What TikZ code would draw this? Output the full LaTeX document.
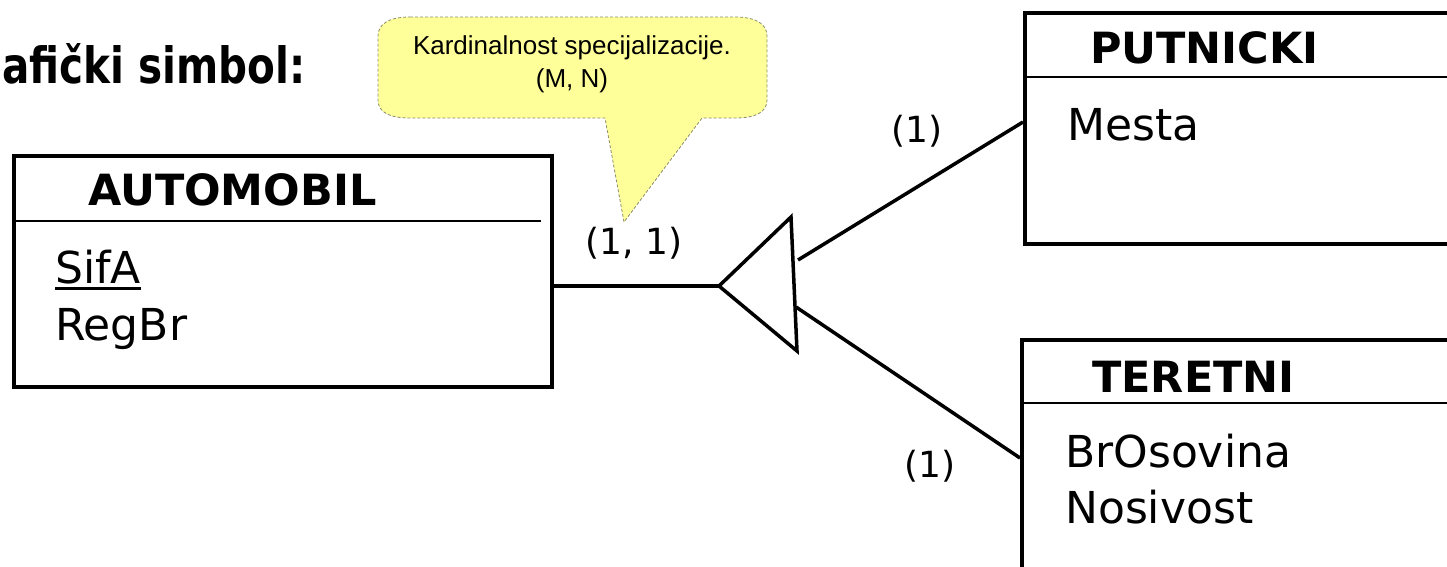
\documentclass[tikz,border=0pt]{standalone}
\usepackage{graphicx}
\usepackage{fontspec}
\setmainfont{DejaVu Sans}
\newfontfamily\notefont{Liberation Sans}
\definecolor{notefill}{HTML}{FFFF99}
\definecolor{noteline}{HTML}{8C8C6E}
\begin{document}
\begin{tikzpicture}[x=1pt,y=-1pt,
  entity/.style={draw, line width=4pt, anchor=north west, inner sep=0pt},
  sepline/.style={line width=2pt},
  conn/.style={line width=3.5pt},
  etitle/.style={anchor=base west, inner sep=0pt, font=\fontsize{43}{50}\selectfont\bfseries},
  attr/.style={anchor=base west, inner sep=0pt, font=\fontsize{44}{57}\selectfont},
  card/.style={inner sep=0pt, font=\fontsize{36}{40}\selectfont},
  note/.style={draw=noteline, densely dashed, line width=0.8pt, fill=notefill},
  notetext/.style={inner sep=0pt, font=\notefont\fontsize{26}{33}\selectfont, align=center}
]
\path[use as bounding box, clip] (0,0) rectangle (1447,566);

% heading
\node[anchor=base east, inner sep=0pt, font=\fontsize{50}{56}\selectfont\bfseries] (head) at (306,83) {\scalebox{0.81}[1]{afički simbol:}};

% supertype entity
\node[entity, minimum width=538pt, minimum height=231pt] (auto) at (12,154) {};
\draw[sepline] (12,221) -- (541,221);
\node[etitle] (autot) at (88,205) {AUTOMOBIL};
\node[attr] (sifa) at (55,283) {SifA};
\draw[line width=3pt] ([yshift=-5pt]sifa.base west) -- ([yshift=-5pt]sifa.base east);
\node[attr] (regbr) at (55,340) {RegBr};

% subtype entities
\node[entity, minimum width=460pt, minimum height=231pt] (put) at (1023,11) {};
\draw[sepline] (1023,77) -- (1460,77);
\node[etitle] (putt) at (1090,63) {PUTNICKI};
\node[attr] (mesta) at (1067,140) {Mesta};

\node[entity, minimum width=460pt, minimum height=300pt] (ter) at (1020,338) {};
\draw[sepline] (1020,403) -- (1460,403);
\node[etitle] (tert) at (1092,392) {TERETNI};
\node[attr] (bros) at (1065,467) {BrOsovina};
\node[attr] (nos) at (1065,523) {Nosivost};

% specialization symbol
\coordinate (apex) at (719,286);
\coordinate (tritop) at (791,217);
\coordinate (tribot) at (797,351);
\draw[conn, line join=miter] (apex) -- (tritop) -- (tribot) -- cycle;
\draw[conn] (auto.east |- apex) -- (apex);

\coordinate (up0) at (798,260);
\coordinate (up1) at (1023,122);
\coordinate (lo0) at (796,307);
\coordinate (lo1) at (1020,458);
\draw[conn] (up0) -- (up1);
\draw[conn] (lo0) -- (lo1);

% cardinalities
\node[card] (c11) at (634,243) {(1, 1)};
\node[card] (c1a) at (917,131) {(1)};
\node[card] (c1b) at (930,466) {(1)};

% callout
\coordinate (tip) at (624,222);
\draw[note] (410,17) -- (735,17)
  .. controls (756,17) and (767,24) .. (767,36) -- (767,100)
  .. controls (767,112) and (756,118) .. (735,118) -- (702,118) -- (tip) -- (605,118) -- (410,118)
  .. controls (389,118) and (378,112) .. (378,100) -- (378,36)
  .. controls (378,24) and (389,17) .. (410,17) -- cycle;
\node[notetext] (notet) at (572,64) {Kardinalnost specijalizacije.\\(M, N)};
\end{tikzpicture}
\end{document}
